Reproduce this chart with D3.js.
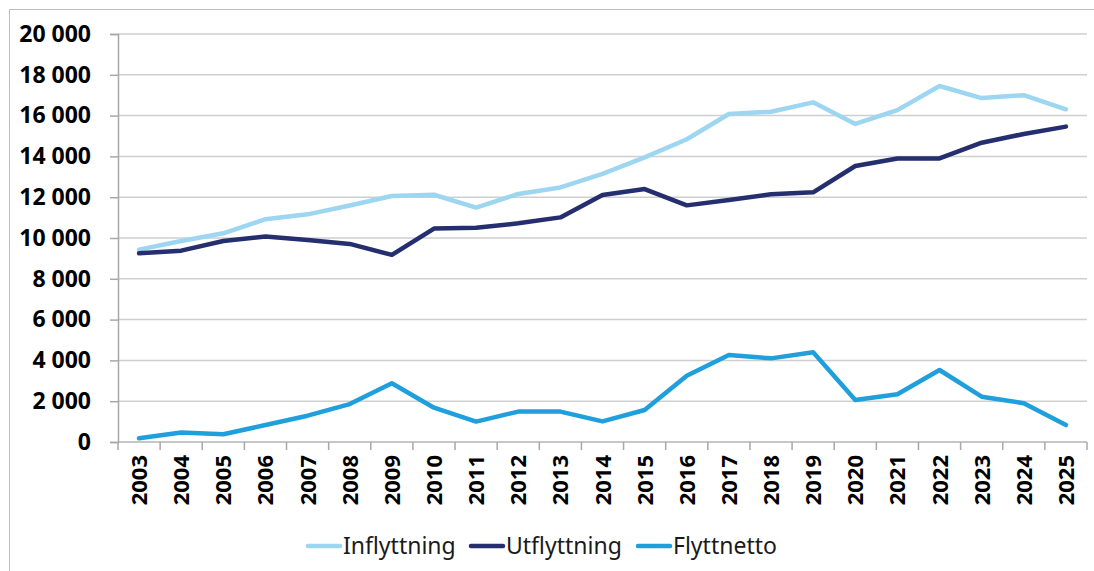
<!DOCTYPE html>
<html>
<head>
<meta charset="utf-8">
<script src="https://cdn.jsdelivr.net/npm/d3@7"></script>
<style>
  body { margin: 0; background: #fff; }
  svg { display: block; }
</style>
</head>
<body>
<svg id="chart" width="1094" height="571"></svg>
<script>
const years = ["2003","2004","2005","2006","2007","2008","2009","2010","2011","2012","2013","2014",
               "2015","2016","2017","2018","2019","2020","2021","2022","2023","2024","2025"];
const inflyttning = [9430, 9850, 10230, 10920, 11160, 11590, 12060, 12120, 11490, 12160, 12480, 13140,
                     13950, 14840, 16080, 16190, 16650, 15590, 16270, 17450, 16860, 17000, 16310];
const utflyttning = [9250, 9380, 9850, 10070, 9900, 9710, 9170, 10460, 10500, 10720, 11010, 12110,
                     12400, 11600, 11860, 12140, 12240, 13530, 13900, 13900, 14670, 15100, 15460];
const flyttnetto = [180, 470, 380, 830, 1290, 1860, 2880, 1680, 1000, 1490, 1490, 1010,
                    1570, 3250, 4260, 4100, 4400, 2060, 2340, 3530, 2220, 1900, 830];
const yTicks = [0, 2000, 4000, 6000, 8000, 10000, 12000, 14000, 16000, 18000, 20000];

const series = [
    {name: "Inflyttning", values: inflyttning, color: "#9dd6f1"},
    {name: "Utflyttning", values: utflyttning, color: "#252e6e"},
    {name: "Flyttnetto", values: flyttnetto, color: "#1f9fdb"}
];

const svg = d3.select("#chart");
const plotLeft = 118, plotRight = 1087, plotTop = 34, plotBottom = 442;
const font = "'Noto Sans', 'Open Sans', sans-serif";

// outer frame
svg.append("rect")
    .attr("x", 9.5).attr("y", 9.5)
    .attr("width", 1100).attr("height", 600)
    .attr("fill", "none").attr("stroke", "#bdbdbd").attr("stroke-width", 1);

const x = d3.scaleBand().domain(years).range([plotLeft, plotRight]).padding(0);
const y = d3.scaleLinear().domain([0, 20000]).range([plotBottom, plotTop]);

const fmt = d3.formatLocale({decimal: ",", thousands: "\u00a0", grouping: [3], currency: ["", " kr"]}).format(",d");

// gridlines
svg.append("g")
    .selectAll("line")
    .data(yTicks)
    .enter()
    .append("line")
    .attr("x1", plotLeft).attr("x2", plotRight)
    .attr("y1", d => y(d)).attr("y2", d => y(d))
    .attr("stroke", d => d === 0 ? "#b5b5b5" : "#cfcfcf")
    .attr("stroke-width", 1.5);

// y axis
const yAxis = d3.axisLeft(y).tickValues(yTicks).tickSize(8).tickPadding(19).tickFormat(fmt);
const gy = svg.append("g").attr("transform", `translate(${plotLeft},0)`).call(yAxis);
gy.select(".domain").attr("stroke", "#a8a8a8").attr("stroke-width", 1.5);
gy.selectAll(".tick line").attr("stroke", "#a8a8a8").attr("stroke-width", 1.5);
gy.selectAll("text")
    .attr("font-family", font)
    .attr("font-weight", "bold")
    .attr("font-size", "23px")
    .attr("fill", "#000");

// x axis tick marks at category boundaries
const bounds = years.map(d => x(d)).concat([x(years[years.length - 1]) + x.bandwidth()]);
svg.append("g")
    .selectAll("line")
    .data(bounds)
    .enter()
    .append("line")
    .attr("x1", d => d).attr("x2", d => d)
    .attr("y1", plotBottom).attr("y2", plotBottom + 8)
    .attr("stroke", "#a8a8a8").attr("stroke-width", 1.5);

// x labels
svg.append("g")
    .selectAll("text")
    .data(years)
    .enter()
    .append("text")
    .attr("transform", d => `translate(${x(d) + x.bandwidth() / 2 + 8},455) rotate(-90)`)
    .attr("text-anchor", "end")
    .attr("font-family", font)
    .attr("font-weight", "bold")
    .attr("font-size", "22px")
    .attr("fill", "#000")
    .text(d => d);

// lines
const line = d3.line()
    .x((d, i) => x(years[i]) + x.bandwidth() / 2)
    .y(d => y(d));

svg.append("g")
    .selectAll("path")
    .data(series)
    .enter()
    .append("path")
    .attr("d", d => line(d.values))
    .attr("fill", "none")
    .attr("stroke", d => d.color)
    .attr("stroke-width", 4.5)
    .attr("stroke-linejoin", "round")
    .attr("stroke-linecap", "round");

// legend
const legendX = [308, 471, 638];
const legend = svg.append("g")
    .selectAll("g")
    .data(series)
    .enter()
    .append("g")
    .attr("transform", (d, i) => `translate(${legendX[i]},546)`);

legend.append("line")
    .attr("x1", 0).attr("x2", 32)
    .attr("y1", 0).attr("y2", 0)
    .attr("stroke", d => d.color)
    .attr("stroke-width", 4.5)
    .attr("stroke-linecap", "round");

legend.append("text")
    .attr("x", 35).attr("y", 8)
    .attr("font-family", font)
    .attr("font-size", "23px")
    .attr("fill", "#1a1a1a")
    .text(d => d.name);
</script>
</body>
</html>
